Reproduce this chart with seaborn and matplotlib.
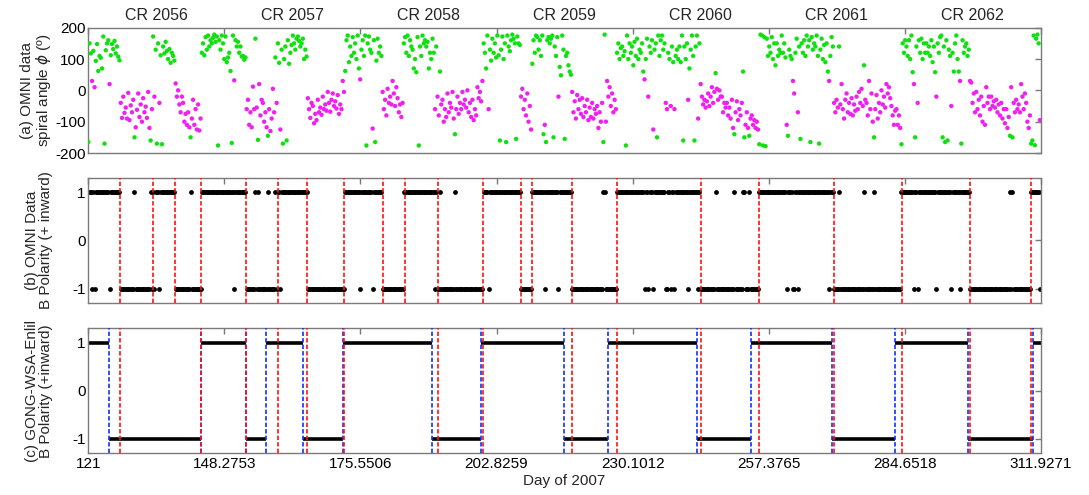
import numpy as np
import pandas as pd
import matplotlib
matplotlib.use("Agg")
import matplotlib.pyplot as plt
import matplotlib.transforms as mtransforms
import seaborn as sns

# OMNI magnetic-field spiral angle phi (degrees), 6-hour cadence, four samples per day.
# Each list starts at the day of year in its name.
sample_step = 0.25
phi_from_121 = [
    -165, 150, 118, 30,   126, 10, 94, 148,    62, 110, 104, 70,    172, -170, 128, 150,
    160, 20, 112, 148,    132, 158, 118, 140,  108, 96, -40, -88,   -20, -72, -55, -90,
    -8, -95, -48, -70,    -30, -150, -118, -62, -10, -85, -45, -100, -25, -70, -52, -88,
    -5, -120, -160, -60,  172, -20, 130, -170, 150, -40, 112, -172, 140, 118, 155, 126,
    100, 132, 88, 120,    110, 95, 22, -20,    0, -45, -70, -20,    -40, -100, -75, -110,
    -70, -118, -150, -90, -30, -110, -60, -125, -45, -128, -90, 120, 150, 112, 170, 130,
    175, 140, 160, 150,   168, 178, 155, 172,  -176, 160, 130, 175,
]
phi_from_148 = [
    150, 100, 172, 90,    105, 120, 62, -168,  175, 32, 160, 140,   155, 120, 140, 108,
    110, 98, 105, -60,    -30, -110, -70, -118, 12, -60, 165, -55,  -158, 20, -80, -30,
    -40, -100, -70, -118, -145, -60, -130, -90, 5, -70, 105, -40,   150, 88, -125, 130,
    -170, 100, 140, -160, 160, 85, 120, 145,   175, 150, 130, 165,  172, 158, 140, 150,
    165, 100, 130, 108,   -25, -60, -88, -40,  -50, -105, -75, -95, -30, -70, -55, -78,
    -20, -60, -45, -65,   -5, -40, -68, -30,   -10, -50, -35, -58,  -15, -75, -45, -60,
    30, -5, 62, 160,      175, 90, 140, 110,   170, 120, 150, 100,
]
phi_from_175 = [
    175, 70, 35, 130,     160, 110, 175, -176, 150, 172, 130, 120,  -122, 160, -165, 95,
    165, 120, 140, 110,   -5, -60, -30, -80,   5, -40, -20, -45,    30, -10, -50, 10,
    -25, -70, -45, -85,   -40, 150, 170, 120,  175, 110, 160, 140,  130, 70, 100, 58,
    170, -176, 140, 110,  175, 150, 160, 140,  155, 70, 120, 100,   165, 120, -60, 140,
    -20, -80, 60, -45,    -30, -100, -60, -85, -10, -70, -40, -55,  -5, -90, -140, -60,
    -20, -75, -40, -60,   -5, -45, -30, -55,   0, -70, -40, -85,    -30, -95, -60, -80,
    10, -25, -5, -35,     30, 150, 120, 70,    175, -60, 130, 95,
]
phi_from_202 = [
    165, 120, 150, 105,   175, 112, -160, 130, 172, 100, 150, -165, 175, 140, 125, 160,
    178, 165, 150, -155,  172, 150, 145, -20,  5, -60, -30, -80,    -10, -100, -50, -125,
    85, 160, 120, 175,    170, 130, 160, 110,  175, -140, -110, -165, 160, 170, 150, 165,
    175, -150, 140, 110,  170, -20, 75, 48,    175, 130, -155, 110, 120, 80, 60, 50,
    -5, -70, -35, -90,    -15, -60, -30, -75,  -25, -85, -50, -70,  -30, -95, -55, -85,
    -40, -90, -60, -75,   -50, -120, -70, -100, -40, -165, 178, -100, 30, -20, 10, -50,
    -10, -70, -30, -60,   120, 150, 100, 135,  140, 110, 125, -176,
]
phi_from_229 = [
    175, 100, 150, 120,   140, 80, 155, 110,   165, 100, 130, 120,  150, 60, 35, 100,
    165, -20, 140, 120,   160, -125, 130, 150, -150, 175, 110, 160, 175, 130, 150, -40,
    -60, 120, 100, -50,   140, 90, -60, 110,   130, 100, 140, 90,   175, -160, 140, 100,
    150, -30, 70, 130,    175, 110, -160, 140, 175, -90, 150, 20,   -20, -45, -30, -55,
    -35, -10, -50, -20,   10, -40, -5, 55,     5, -30, 0, -20,      -20, -70, -40, -55,
    -40, -80, -55, -90,   -30, -120, -140, -70, -35, -95, -60, -80, -40, 60, -150, -110,
    -70, -120, -145, -90, -80, -110, -95, -120, -100, -125, -172, 178,
]
phi_from_256 = [
    176, -176, 170, -178, 165, 110, 140, 120,  170, 100, 150, 80,   150, 110, 130, 120,
    175, 120, 150, 105,   -110, -145, 130, 110, 100, 30, -10, 120,  165, -70, 140, -155,
    150, 120, 160, 110,   175, 140, 160, -165, 170, 130, 150, 140,  175, 110, -170, 130,
    165, 100, 145, 90,    150, 60, 30, 110,    170, 140, -40, -70,  -30, -55, 140, -45,
    20, -60, -90, -30,    -10, -70, -40, -75,  -25, -80, -45, -65,  -20, -60, -5, -40,
    5, -50, 80, -30,      -40, -80, 30, -60,   -10, -100, -150, -60, -15, -90, -40, -70,
    0, -45, -20, -55,     20, -10, 10, -25,    -50, -80, -110, -65,
]
phi_from_283 = [
    -60, -110, -80, -120, -172, 150, 120, 160, 140, 110, 160, 100,  175, 58, 20, -150,
    140, -40, 160, 120,   165, 100, 150, 120,  150, 120, 140, 110,  160, 90, 140, 58,
    -20, 150, 120, 170,   175, -150, 140, -165, 160, -160, 130, 110, -50, 120, 60, 150,
    175, 100, 60, 30,     -170, 160, 120, 140, 150, 110, 130, 30,   25, -40, -10, -70,
    -5, -60, -30, -80,    -20, -100, -50, -110, 10, -40, -20, -60,  -20, -50, -35, -55,
    -30, -70, -45, -80,   -40, -90, -60, -105, -60, -120, -85, -145, 10, -150, -40, -70,
    -30, -60, -45, -70,   20, -20, -60, -10,   -40, -100, -120, -80, -170, -160, 175, -175,
    165, 178, 150, -95,
]
phi_blocks = [(121, phi_from_121), (148, phi_from_148), (175, phi_from_175),
              (202, phi_from_202), (229, phi_from_229), (256, phi_from_256),
              (283, phi_from_283)]

# Sector boundaries identified in the OMNI data (day of year)
omni_boundaries = [127.4, 134.0, 138.3, 143.6, 152.7, 159.0, 164.8, 172.3, 180.0,
                   184.4, 191.0, 200.1, 207.7, 210.0, 218.0, 227.0, 243.8, 255.4,
                   270.5, 284.1, 297.8, 309.9]
# Main OMNI boundaries used for comparison with the model
omni_major_boundaries = [127.4, 143.6, 152.7, 159.0, 164.8, 172.3, 191.0, 200.1,
                         218.0, 227.0, 243.8, 255.4, 270.5, 284.1, 297.8, 309.9]

# GONG-WSA-Enlil modelled sector edges and polarity between them
model_edges = [121.0, 125.15, 143.55, 152.6, 156.6, 164.0, 172.1, 189.8, 199.8,
               216.4, 225.1, 243.1, 253.9, 270.0, 282.7, 297.4, 310.3, 311.9271]
model_polarity = [1, -1, 1, -1, 1, -1, 1, -1, 1, -1, 1, -1, 1, -1, 1, -1, 1]

# Carrington rotations and their start days
cr_numbers = [2056, 2057, 2058, 2059, 2060, 2061, 2062]
cr_start_days = [121.0, 148.2753, 175.5506, 202.8259, 230.1012, 257.3765, 284.6518, 311.9271]
cr_tick_labels = ["121", "148.2753", "175.5506", "202.8259", "230.1012",
                  "257.3765", "284.6518", "311.9271"]

# ---------------------------------------------------------------------------
frames = []
for start, values in phi_blocks:
    vals = np.asarray(values, dtype=float)
    frames.append(pd.DataFrame({"day": start + sample_step * np.arange(vals.size),
                                "phi": vals}))
omni = pd.concat(frames, ignore_index=True)
# Away/toward classification about the nominal Parker spiral directions
inward = (omni["phi"] > 45) | (omni["phi"] < -135)
omni["sector"] = np.where(inward, "inward", "outward")
omni["polarity"] = np.where(inward, 1, -1)

sns.set_theme(style="white")
plt.rcParams["font.family"] = ["Liberation Sans", "DejaVu Sans"]
plt.rcParams["axes.unicode_minus"] = False
plt.rcParams["mathtext.fontset"] = "dejavusans"

fig = plt.figure(figsize=(10.89, 4.95), dpi=100)
left, width = 0.0811, 0.8746
ax_a = fig.add_axes([left, 0.6909, width, 0.2531])
ax_b = fig.add_axes([left, 0.3873, width, 0.2537])
ax_c = fig.add_axes([left, 0.0842, width, 0.2526])

fs = 11
spine_col = "#7a7a7a"

sns.scatterplot(data=omni, x="day", y="phi", hue="sector",
                palette={"inward": "#10e010", "outward": "#f020f0"},
                s=10, linewidth=0, legend=False, ax=ax_a, zorder=3)
ax_a.set_ylim(-200, 200)
ax_a.set_yticks([-200, -100, 0, 100, 200])

sns.scatterplot(data=omni, x="day", y="polarity", color="black",
                s=12, linewidth=0, legend=False, ax=ax_b, zorder=2)
ax_b.set_ylim(-1.3, 1.3)
ax_b.set_yticks([-1, 0, 1])

ax_c.hlines(model_polarity, model_edges[:-1], model_edges[1:], colors="black",
            linewidth=2.6, zorder=2)
ax_c.set_ylim(-1.3, 1.3)
ax_c.set_yticks([-1, 0, 1])

dash = (0, (2.6, 1.3))
for d in omni_boundaries:
    ax_b.axvline(d, color="#ff1010", linestyle=dash, linewidth=1.2, zorder=4)
for d in model_edges[1:-1]:
    ax_c.axvline(d, color="#1030ff", linestyle=dash, linewidth=1.2, zorder=3)
for d in omni_major_boundaries:
    ax_c.axvline(d, color="#ff1010", linestyle=dash, linewidth=1.2, zorder=4)

for ax in (ax_a, ax_b, ax_c):
    ax.set_xlim(cr_start_days[0], cr_start_days[-1])
    ax.set_xticks(cr_start_days)
    ax.tick_params(direction="in", length=4.5, width=1.0, color=spine_col,
                   top=True, right=True, labelsize=fs, labelcolor="black", pad=3)
    ax.tick_params(axis="y", pad=2)
    for sp in ax.spines.values():
        sp.set_color(spine_col)
        sp.set_linewidth(1.0)
    ax.set_xlabel("")
    ax.set_ylabel("")

ax_a.set_xticklabels([])
ax_b.set_xticklabels([])
ax_c.set_xticklabels(cr_tick_labels)

ax_a.set_ylabel("(a) OMNI data\nspiral angle $\\phi$ (º)", fontsize=fs, linespacing=1.0)
ax_b.set_ylabel("(b) OMNI Data\nB Polarity (+ inward)", fontsize=fs, linespacing=1.0)
ax_c.set_ylabel("(c) GONG-WSA-Enlil\nB Polarity (+inward)", fontsize=fs, linespacing=1.0)
for ax in (ax_a, ax_b, ax_c):
    ax.yaxis.set_label_coords(-0.037, 0.5)
ax_c.set_xlabel("Day of 2007", fontsize=fs, labelpad=2)

trans = mtransforms.blended_transform_factory(ax_a.transData, ax_a.transAxes)
for i, cr in enumerate(cr_numbers):
    mid = 0.5 * (cr_start_days[i] + cr_start_days[i + 1])
    ax_a.text(mid, 1.06, f"CR {cr}", transform=trans, ha="center", va="baseline",
              fontsize=11.5)

fig.savefig("out.png", dpi=100)
